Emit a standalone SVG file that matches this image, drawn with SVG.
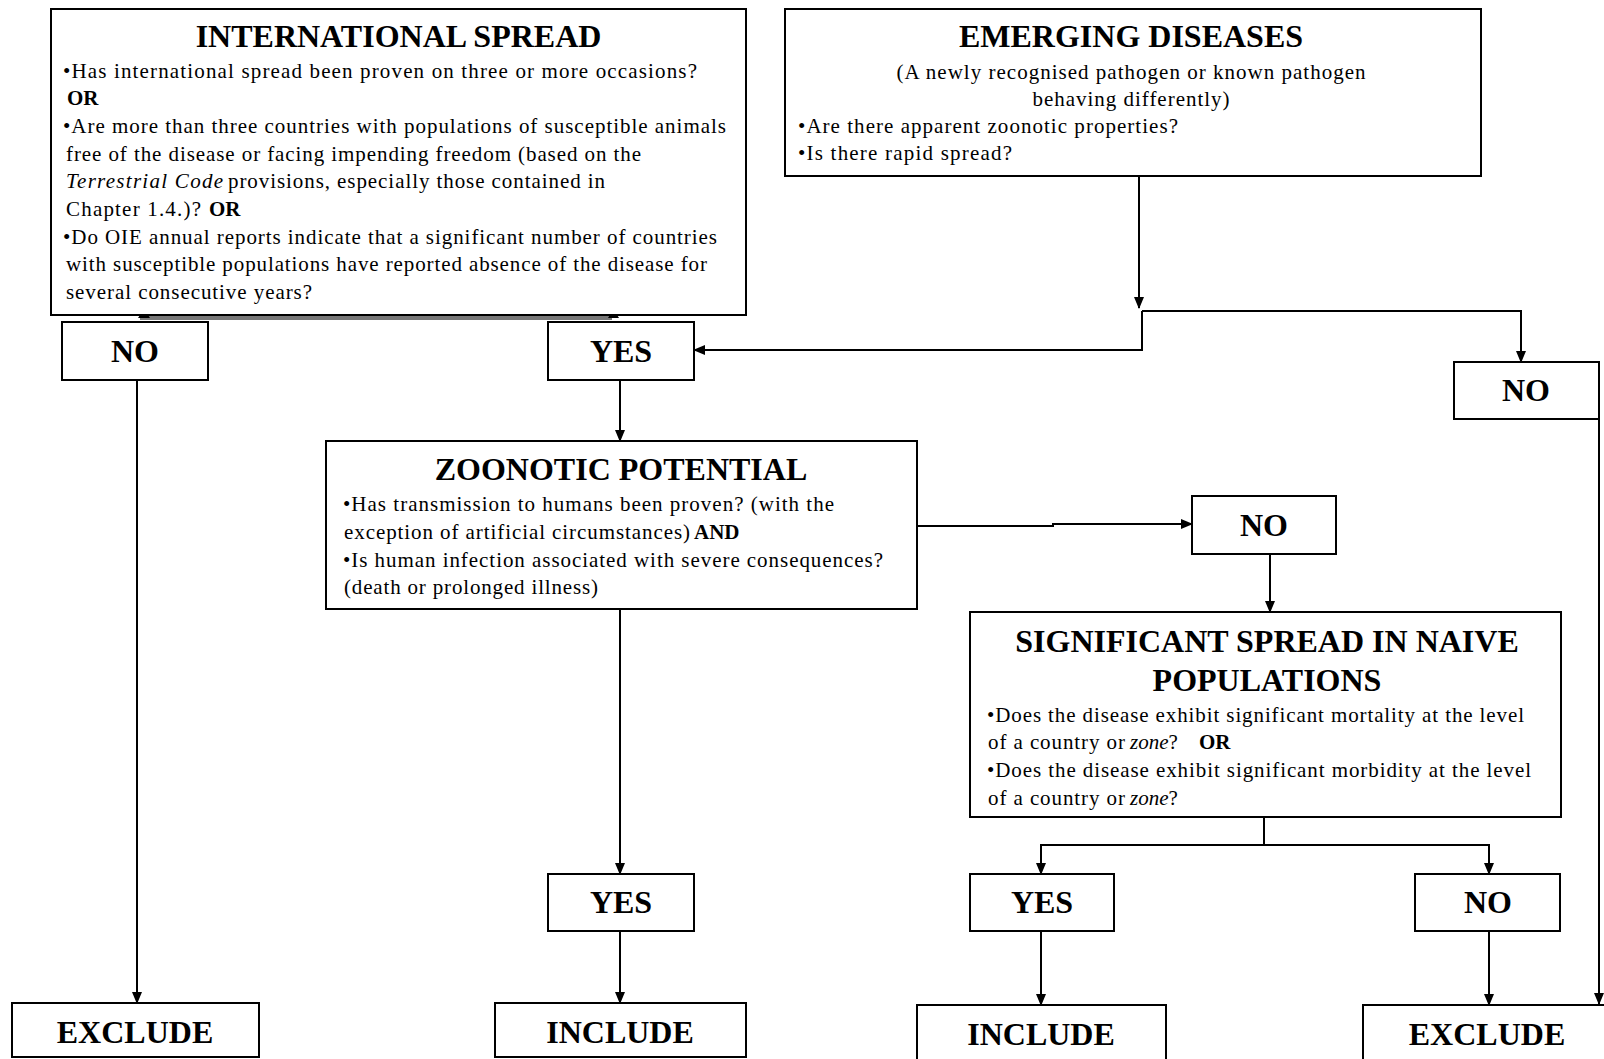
<svg xmlns="http://www.w3.org/2000/svg" width="1604" height="1059" viewBox="0 0 1604 1059">
<style>
.box{fill:#fff;stroke:#000;stroke-width:2}
.t{font-family:"Liberation Serif","Times New Roman",serif;fill:#000}
.title{font-size:32px;font-weight:bold;text-anchor:middle}
.lbl{font-size:32px;font-weight:bold;text-anchor:middle}
.body{font-size:21px}
.b{font-weight:bold}
.i{font-style:italic}
.mid{text-anchor:middle}
.conn{fill:none;stroke:#000;stroke-width:2}
</style>
<defs>
<marker id="ah" markerWidth="12" markerHeight="12" refX="11" refY="6" orient="auto" markerUnits="userSpaceOnUse">
<path d="M0,1 L12,6 L0,11 z" fill="#000"/>
</marker>
</defs>
<rect width="1604" height="1059" fill="#fff"/>

<g id="connectors">
<path class="conn" d="M137,380 V1003" marker-end="url(#ah)"/>
<path class="conn" d="M620,380 V441" marker-end="url(#ah)"/>
<path class="conn" d="M1139,176 V308" marker-end="url(#ah)"/>
<path class="conn" d="M1142,311 H1521 V362" marker-end="url(#ah)"/>
<path class="conn" d="M1142,311 V350 H694" marker-end="url(#ah)"/>
<path class="conn" d="M1599,419 V1004" marker-end="url(#ah)"/>
<path class="conn" d="M917,526 H1053 V524 H1192" marker-end="url(#ah)"/>
<path class="conn" d="M1270,554 V612" marker-end="url(#ah)"/>
<path class="conn" d="M620,609 V874" marker-end="url(#ah)"/>
<path class="conn" d="M620,931 V1003" marker-end="url(#ah)"/>
<path class="conn" d="M1264,817 V845 H1041 V874" marker-end="url(#ah)"/>
<path class="conn" d="M1264,845 H1489 V874" marker-end="url(#ah)"/>
<path class="conn" d="M1041,931 V1005" marker-end="url(#ah)"/>
<path class="conn" d="M1489,931 V1005" marker-end="url(#ah)"/>
<line x1="140" y1="318" x2="612" y2="318" stroke="#777" stroke-width="4"/>
<polygon points="138,318 144,309 150,318" fill="#000"/>
<polygon points="608,318 613.5,309 619,318" fill="#000"/>
</g>

<g id="international-spread">
<rect class="box" x="51" y="9" width="695" height="306"/>
<text class="t title" x="398.5" y="47">INTERNATIONAL SPREAD</text>
<text class="t body" x="63" y="78" textLength="634" lengthAdjust="spacing">•Has international spread been proven on three or more occasions?</text>
<text class="t body b" x="67" y="105">OR</text>
<text class="t body" x="63" y="133" textLength="663" lengthAdjust="spacing">•Are more than three countries with populations of susceptible animals</text>
<text class="t body" x="66" y="161" textLength="575" lengthAdjust="spacing">free of the disease or facing impending freedom (based on the</text>
<text class="t body i" x="66" y="188" textLength="157" lengthAdjust="spacing">Terrestrial Code</text>
<text class="t body" x="228" y="188" textLength="377" lengthAdjust="spacing">provisions, especially those contained in</text>
<text class="t body" x="66" y="216" textLength="135" lengthAdjust="spacing">Chapter 1.4.)?</text>
<text class="t body b" x="209" y="216">OR</text>
<text class="t body" x="63" y="244" textLength="654" lengthAdjust="spacing">•Do OIE annual reports indicate that a significant number of countries</text>
<text class="t body" x="66" y="271" textLength="641" lengthAdjust="spacing">with susceptible populations have reported absence of the disease for</text>
<text class="t body" x="66" y="299" textLength="246" lengthAdjust="spacing">several consecutive years?</text>
</g>

<g id="emerging-diseases">
<rect class="box" x="785" y="9" width="696" height="167"/>
<text class="t title" x="1131" y="47">EMERGING DISEASES</text>
<text class="t body mid" x="1131" y="79" textLength="469" lengthAdjust="spacing">(A newly recognised pathogen or known pathogen</text>
<text class="t body mid" x="1131" y="106" textLength="197" lengthAdjust="spacing">behaving differently)</text>
<text class="t body" x="798" y="133" textLength="380" lengthAdjust="spacing">•Are there apparent zoonotic properties?</text>
<text class="t body" x="798" y="160" textLength="214" lengthAdjust="spacing">•Is there rapid spread?</text>
</g>

<g id="no-1">
<rect class="box" x="62" y="322" width="146" height="58"/>
<text class="t lbl" x="135" y="362">NO</text>
</g>

<g id="yes-1">
<rect class="box" x="548" y="322" width="146" height="58"/>
<text class="t lbl" x="621" y="362">YES</text>
</g>

<g id="no-2">
<rect class="box" x="1454" y="362" width="145" height="57"/>
<text class="t lbl" x="1526" y="401">NO</text>
</g>

<g id="zoonotic-potential">
<rect class="box" x="326" y="441" width="591" height="168"/>
<text class="t title" x="621" y="480">ZOONOTIC POTENTIAL</text>
<text class="t body" x="343" y="511" textLength="491" lengthAdjust="spacing">•Has transmission to humans been proven? (with the</text>
<text class="t body" x="344" y="539" textLength="346" lengthAdjust="spacing">exception of artificial circumstances)</text>
<text class="t body b" x="694" y="539">AND</text>
<text class="t body" x="343" y="567" textLength="540" lengthAdjust="spacing">•Is human infection associated with severe consequences?</text>
<text class="t body" x="344" y="594" textLength="254" lengthAdjust="spacing">(death or prolonged illness)</text>
</g>

<g id="no-3">
<rect class="box" x="1192" y="496" width="144" height="58"/>
<text class="t lbl" x="1264" y="536">NO</text>
</g>

<g id="significant-spread">
<rect class="box" x="970" y="612" width="591" height="205"/>
<text class="t title" x="1267" y="652">SIGNIFICANT SPREAD IN NAIVE</text>
<text class="t title" x="1267" y="691">POPULATIONS</text>
<text class="t body" x="987" y="722" textLength="537" lengthAdjust="spacing">•Does the disease exhibit significant mortality at the level</text>
<text class="t body" x="988" y="749" textLength="137" lengthAdjust="spacing">of a country or</text>
<text class="t body" x="1130" y="749"><tspan class="i">zone</tspan>?</text>
<text class="t body b" x="1199" y="749">OR</text>
<text class="t body" x="987" y="777" textLength="544" lengthAdjust="spacing">•Does the disease exhibit significant morbidity at the level</text>
<text class="t body" x="988" y="805" textLength="137" lengthAdjust="spacing">of a country or</text>
<text class="t body" x="1130" y="805"><tspan class="i">zone</tspan>?</text>
</g>

<g id="yes-2">
<rect class="box" x="548" y="874" width="146" height="57"/>
<text class="t lbl" x="621" y="913">YES</text>
</g>

<g id="yes-3">
<rect class="box" x="970" y="874" width="144" height="57"/>
<text class="t lbl" x="1042" y="913">YES</text>
</g>

<g id="no-4">
<rect class="box" x="1415" y="874" width="145" height="57"/>
<text class="t lbl" x="1488" y="913">NO</text>
</g>

<g id="exclude-1">
<rect class="box" x="12" y="1003" width="247" height="54"/>
<text class="t lbl" x="135" y="1043">EXCLUDE</text>
</g>

<g id="include-1">
<rect class="box" x="495" y="1003" width="251" height="54"/>
<text class="t lbl" x="620" y="1043">INCLUDE</text>
</g>

<g id="include-2">
<rect class="box" x="917" y="1005" width="249" height="56"/>
<text class="t lbl" x="1041" y="1045">INCLUDE</text>
</g>

<g id="exclude-2">
<rect class="box" x="1363" y="1005" width="242" height="56"/>
<text class="t lbl" x="1487" y="1045">EXCLUDE</text>
</g>
</svg>
